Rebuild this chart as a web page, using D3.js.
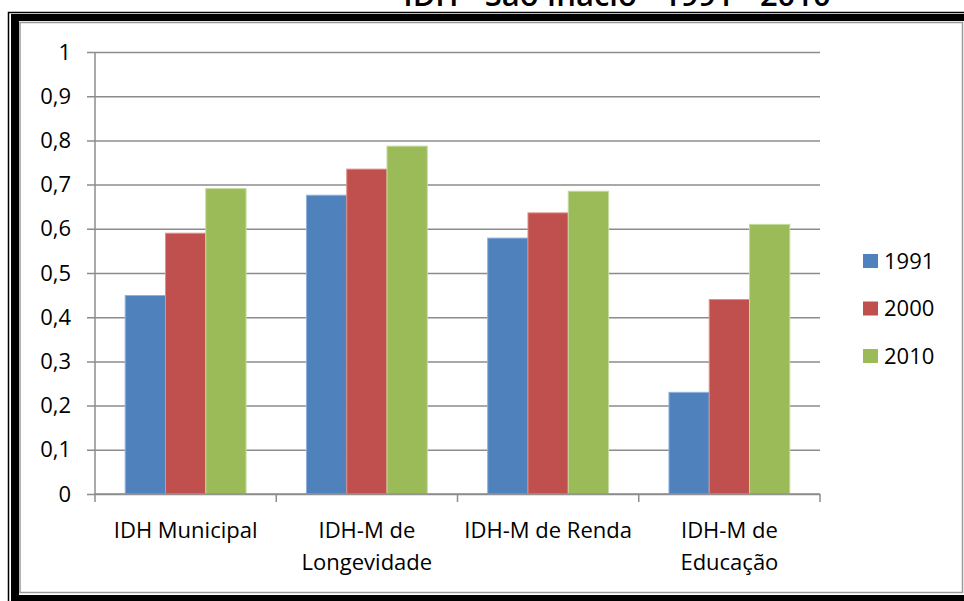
<!DOCTYPE html>
<html>
<head>
<meta charset="utf-8">
<script src="https://cdn.jsdelivr.net/npm/d3@7"></script>
<style>
  body { margin: 0; background: #fff; overflow: hidden; }
  svg { display: block; font-family: "Open Sans", sans-serif; }
</style>
</head>
<body>
<div id="wrapper"></div>
<script>
// chart data
const categories = [["IDH Municipal"], ["IDH-M de", "Longevidade"], ["IDH-M de Renda"], ["IDH-M de", "Educação"]];
const years = ["1991", "2000", "2010"];
const values1991 = [0.449, 0.676, 0.579, 0.23];
const values2000 = [0.59, 0.735, 0.636, 0.44];
const values2010 = [0.691, 0.787, 0.685, 0.61];
const yTicks = [0, 0.1, 0.2, 0.3, 0.4, 0.5, 0.6, 0.7, 0.8, 0.9, 1];
const colors = ["#4F81BD", "#C0504D", "#9BBB59"];
const edgeColors = ["#8fb0d8", "#dc8f8c", "#c5da9e"];
const title = "IDH - São Inácio - 1991 - 2010";

const seriesValues = [values1991, values2000, values2010];
const catNames = categories.map(c => c.join(" "));

const width = 964, height = 601;
const plot = { left: 95, right: 820, top: 52, bottom: 494 };

const svg = d3.select("#wrapper").append("svg")
  .attr("width", width)
  .attr("height", height);

// frame (double border, partly cut at the top / right)
svg.append("path")
  .attr("d", `M8.5,${height} V12.5 H${width}`)
  .attr("fill", "none")
  .attr("stroke", "#000")
  .attr("stroke-width", 1.5);
svg.append("rect")
  .attr("x", 11).attr("y", 14)
  .attr("width", 1000).attr("height", 1000)
  .attr("fill", "#000");
svg.append("rect")
  .attr("x", 19).attr("y", 21)
  .attr("width", 960).attr("height", 574)
  .attr("fill", "#fff");
svg.append("rect")
  .attr("x", 20).attr("y", 22.5)
  .attr("width", 942.5).attr("height", 570)
  .attr("fill", "none")
  .attr("stroke", "#9a9a9a")
  .attr("stroke-width", 1.5);

// title, mostly cut off by the top of the picture
svg.append("text")
  .attr("x", 617)
  .attr("y", 6)
  .attr("text-anchor", "middle")
  .style("font-size", "31px")
  .style("font-weight", "600")
  .attr("fill", "#000")
  .text(title);

// scales
const xScale = d3.scaleBand()
  .domain(catNames)
  .range([plot.left, plot.right])
  .paddingInner(0)
  .paddingOuter(0);

const xSub = d3.scaleBand()
  .domain(years)
  .range([0, xScale.bandwidth()])
  .paddingInner(0)
  .paddingOuter(0.75);

const yScale = d3.scaleLinear()
  .domain([0, 1])
  .range([plot.bottom, plot.top]);

// gridlines + y axis
const yAxis = svg.append("g")
  .attr("transform", `translate(${plot.left},0)`)
  .call(d3.axisLeft(yScale)
    .tickValues(yTicks)
    .tickSize(8)
    .tickPadding(16)
    .tickFormat(d => d3.format("~g")(d).replace(".", ",")));
yAxis.select(".domain").remove();
yAxis.selectAll(".tick line")
  .attr("x2", plot.right - plot.left)
  .attr("x1", -8)
  .attr("stroke", "#8c8c8c")
  .attr("stroke-width", 1.5);
yAxis.selectAll(".tick text")
  .attr("fill", "#000")
  .style("font-size", "22px")
  .style("font-family", "'Open Sans', sans-serif");

svg.append("line")
  .attr("x1", plot.left).attr("x2", plot.left)
  .attr("y1", plot.top).attr("y2", plot.bottom)
  .attr("stroke", "#8c8c8c")
  .attr("stroke-width", 1.5);

// bars
const groups = svg.append("g")
  .selectAll("g")
  .data(years)
  .join("g")
  .attr("fill", (d, i) => colors[i]);

groups.each(function(year, si) {
  d3.select(this).selectAll("rect")
    .data(seriesValues[si])
    .join("rect")
    .attr("x", (d, i) => xScale(catNames[i]) + xSub(year))
    .attr("y", d => yScale(d))
    .attr("width", xSub.bandwidth())
    .attr("height", d => plot.bottom - yScale(d))
    .attr("stroke", edgeColors[si])
    .attr("stroke-width", 1);
});

// x axis line + boundary ticks
svg.append("line")
  .attr("x1", plot.left).attr("x2", plot.right)
  .attr("y1", plot.bottom).attr("y2", plot.bottom)
  .attr("stroke", "#8c8c8c")
  .attr("stroke-width", 1.5);

const bounds = catNames.map(c => xScale(c)).concat([plot.right]);
svg.append("g")
  .selectAll("line")
  .data(bounds)
  .join("line")
  .attr("x1", d => d).attr("x2", d => d)
  .attr("y1", plot.bottom).attr("y2", plot.bottom + 8)
  .attr("stroke", "#8c8c8c")
  .attr("stroke-width", 1.5);

// category labels
const labels = svg.append("g")
  .selectAll("text")
  .data(categories)
  .join("text")
  .attr("text-anchor", "middle")
  .attr("fill", "#000")
  .style("font-size", "22px")
  .attr("transform", (d, i) => `translate(${xScale(catNames[i]) + xScale.bandwidth() / 2},538)`);

labels.selectAll("tspan")
  .data(d => d)
  .join("tspan")
  .attr("x", 0)
  .attr("dy", (d, i) => i === 0 ? 0 : 32)
  .text(d => d);

// legend
const legend = svg.append("g")
  .selectAll("g")
  .data(years)
  .join("g")
  .attr("transform", (d, i) => `translate(863,${261 + i * 47.5})`);

legend.append("rect")
  .attr("x", 0).attr("y", -7)
  .attr("width", 15).attr("height", 14)
  .attr("fill", (d, i) => colors[i]);

legend.append("text")
  .attr("x", 21)
  .attr("dy", "0.35em")
  .attr("fill", "#000")
  .style("font-size", "22px")
  .text(d => d);
</script>
</body>
</html>
